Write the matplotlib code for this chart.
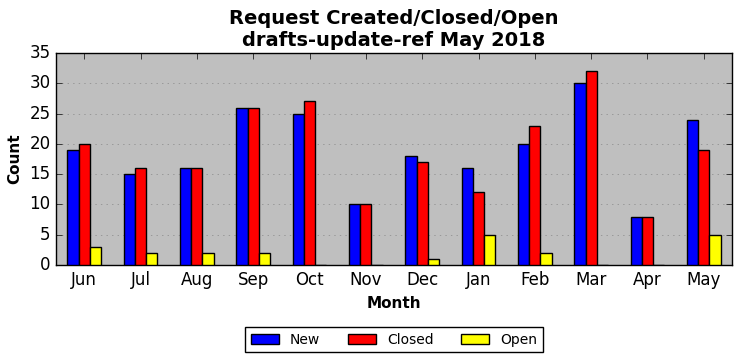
import matplotlib
matplotlib.use("Agg")
import matplotlib.pyplot as plt
import numpy as np

months = ["Jun", "Jul", "Aug", "Sep", "Oct", "Nov", "Dec", "Jan", "Feb", "Mar", "Apr", "May"]
new = [19, 15, 16, 26, 25, 10, 18, 16, 20, 30, 8, 24]
closed = [20, 16, 16, 26, 27, 10, 17, 12, 23, 32, 8, 19]
open_ = [3, 2, 2, 2, 0, 0, 1, 5, 2, 0, 0, 5]

plt.style.use("classic")
fig = plt.figure(figsize=(7.42, 3.61), dpi=100, facecolor="white")
ax = fig.add_axes([56/742, 1-265/361, 676/742, 212/361])
ax.set_facecolor("#bfbfbf")
x = np.arange(len(months))
w = 0.2
ax.bar(x - w, new, w, align="center", color="blue", edgecolor="black", label="New", zorder=3)
ax.bar(x, closed, w, align="center", color="red", edgecolor="black", label="Closed", zorder=3)
ax.bar(x + w, open_, w, align="center", color="yellow", edgecolor="black", label="Open", zorder=3)
ax.set_xlim(-0.5, len(months) - 0.5)
ax.set_ylim(0, 35)
ax.set_xticks(x)
ax.set_xticklabels(months, fontsize=12)
ax.tick_params(axis="y", labelsize=12)
ax.yaxis.grid(True, linestyle=":", color="#888888", zorder=0)
ax.xaxis.grid(False)
ax.set_axisbelow(True)
ax.set_xlabel("Month", fontweight="bold", fontsize=11)
ax.set_ylabel("Count", fontweight="bold", fontsize=11)
ax.set_title("Request Created/Closed/Open\ndrafts-update-ref May 2018", fontweight="bold", fontsize=14)
ax.legend(loc="upper center", bbox_to_anchor=(0.5, -0.26), ncol=3, fontsize=10, numpoints=1)
fig.savefig("out.png", dpi=100, facecolor="white")
